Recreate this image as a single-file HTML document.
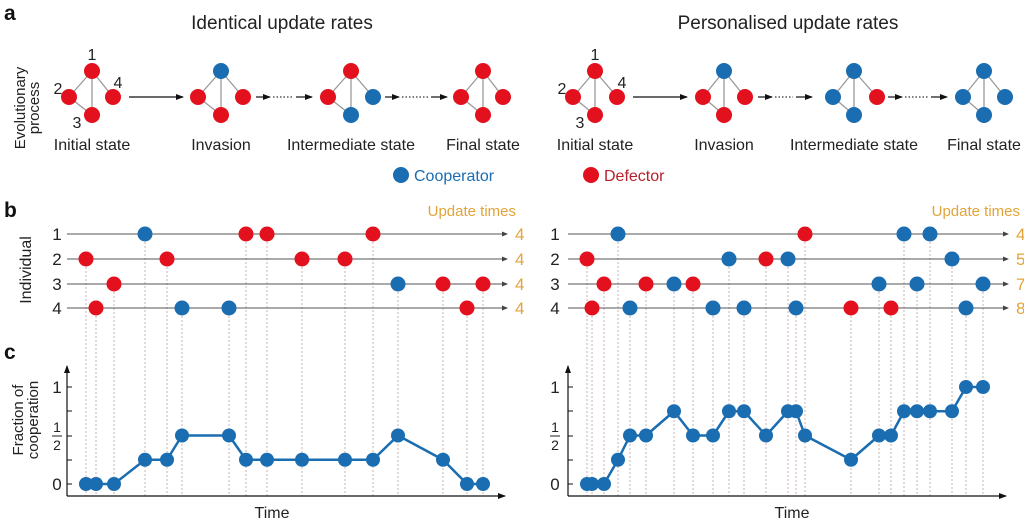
<!DOCTYPE html>
<html><head><meta charset="utf-8"><style>
html,body{margin:0;padding:0;background:#fff;}
svg{display:block;font-family:"Liberation Sans",Arial,sans-serif;}
</style></head><body>
<svg id="s" width="1024" height="524" viewBox="0 0 1024 524" xmlns="http://www.w3.org/2000/svg">
<defs>
<marker id="ar" markerWidth="8" markerHeight="6" refX="7" refY="3" orient="auto" markerUnits="userSpaceOnUse"><path d="M0,0 L8,3 L0,6 z" fill="#111"/></marker>
<marker id="ag" markerWidth="6" markerHeight="5" refX="5" refY="2.5" orient="auto" markerUnits="userSpaceOnUse"><path d="M0,0 L6,2.5 L0,5 z" fill="#444"/></marker>
</defs>
<g font-weight="bold" font-size="21" fill="#111">
<text x="4" y="20">a</text><text x="4" y="217">b</text><text x="4" y="359">c</text>
</g>
<text x="282" y="29" font-size="19" text-anchor="middle" fill="#222">Identical update rates</text>
<text x="788" y="29" font-size="19" text-anchor="middle" fill="#222">Personalised update rates</text>
<text transform="translate(25,108) rotate(-90)" font-size="15" text-anchor="middle" fill="#222">Evolutionary</text>
<text transform="translate(39,108) rotate(-90)" font-size="15" text-anchor="middle" fill="#222">process</text>
<text transform="translate(31,270) rotate(-90)" font-size="16" text-anchor="middle" fill="#222">Individual</text>
<text transform="translate(23,420) rotate(-90)" font-size="15" text-anchor="middle" fill="#222">Fraction of</text>
<text transform="translate(38,420) rotate(-90)" font-size="15" text-anchor="middle" fill="#222">cooperation</text>
<circle cx="401" cy="175" r="8" fill="#1a6db0"/><text x="414" y="181" font-size="16" fill="#1a6db0">Cooperator</text>
<circle cx="591" cy="175" r="8" fill="#e3101d"/><text x="604" y="181" font-size="16" fill="#b8202c">Defector</text>
<text x="516" y="216" font-size="15" text-anchor="end" fill="#e2a43a">Update times</text>
<text x="1020" y="216" font-size="15" text-anchor="end" fill="#e2a43a">Update times</text>
<text x="272" y="518" font-size="16" text-anchor="middle" fill="#222">Time</text>
<text x="792" y="518" font-size="16" text-anchor="middle" fill="#222">Time</text>
<g id="g"></g>
</svg>
<script>
var R="#e3101d",B="#1a6db0",g=document.getElementById("g"),h="";
function net(c,l,r,cols){
 h+='<g stroke="#999" stroke-width="1.3"><line x1="'+c+'" y1="71" x2="'+l+'" y2="97"/><line x1="'+c+'" y1="71" x2="'+r+'" y2="97"/><line x1="'+c+'" y1="71" x2="'+c+'" y2="115"/><line x1="'+l+'" y1="97" x2="'+c+'" y2="115"/></g>';
 h+='<circle cx="'+c+'" cy="71" r="8" fill="'+cols[0]+'"/><circle cx="'+l+'" cy="97" r="8" fill="'+cols[1]+'"/><circle cx="'+c+'" cy="115" r="8" fill="'+cols[2]+'"/><circle cx="'+r+'" cy="97" r="8" fill="'+cols[3]+'"/>';
}
function txt(x,y,s,sz,anc,col){h+='<text x="'+x+'" y="'+y+'" font-size="'+sz+'" text-anchor="'+(anc||"middle")+'" fill="'+(col||"#222")+'">'+s+'</text>';}
function arrow(x1,x2,dotted){
 if(!dotted){h+='<line x1="'+x1+'" y1="97" x2="'+x2+'" y2="97" stroke="#111" stroke-width="1.2" marker-end="url(#ar)"/>';return;}
 var a=x1+14,b=x2-16;
 h+='<line x1="'+x1+'" y1="97" x2="'+a+'" y2="97" stroke="#111" stroke-width="1.2" marker-end="url(#ar)"/>';
 h+='<line x1="'+(a+3)+'" y1="97" x2="'+(b-3)+'" y2="97" stroke="#333" stroke-width="1.2" stroke-dasharray="1.5,2"/>';
 h+='<line x1="'+b+'" y1="97" x2="'+x2+'" y2="97" stroke="#111" stroke-width="1.2" marker-end="url(#ar)"/>';
}
function panelA(o,C){
 net(o[0][0],o[0][1],o[0][2],[R,R,R,R]);
 txt(o[0][0],60,"1",16);txt(o[0][1]-11,94,"2",16);txt(o[0][2]+5,88,"4",16);txt(o[0][0]-15,128,"3",16);
 for(var i=1;i<4;i++)net(o[i][0],o[i][1],o[i][2],C[i-1]);
 var L=["Initial state","Invasion","Intermediate state","Final state"];
 for(i=0;i<4;i++)txt(o[i][0],150,L[i],16);
}
panelA([[92,69,113],[221,198,243],[351,328,373],[483,461,503]],[[B,R,R,R],[R,R,B,B],[R,R,R,R]]);
arrow(129,183,false);arrow(256,312,true);arrow(385,447,true);
panelA([[595,573,617],[724,703,745],[854,833,877],[984,963,1005]],[[B,R,R,R],[B,B,B,R],[B,B,B,B]]);
arrow(633,687,false);arrow(758,812,true);arrow(888,947,true);

var rows=[234,259,284,308];
function panel(x0,x1,lab,ev,counts,pts){
 for(var r=0;r<4;r++)for(var k=0;k<ev[r].length;k++){
  var e=ev[r][k];h+='<line x1="'+e[0]+'" y1="'+rows[r]+'" x2="'+e[0]+'" y2="496" stroke="#c4a8ac" stroke-width="0.9" stroke-dasharray="2,2"/>';
 }
 for(r=0;r<4;r++){
  h+='<line x1="'+x0+'" y1="'+rows[r]+'" x2="'+(x1+2)+'" y2="'+rows[r]+'" stroke="#555" stroke-width="1" marker-end="url(#ag)"/>';
  txt(lab,rows[r]+6,String(r+1),17,"middle","#222");
  txt(x1+10,rows[r]+6,counts[r],17,"start","#e2a43a");
  for(k=0;k<ev[r].length;k++){e=ev[r][k];h+='<circle cx="'+e[0]+'" cy="'+rows[r]+'" r="7.5" fill="'+e[1]+'"/>';}
 }
 h+='<line x1="'+x0+'" y1="496" x2="'+x0+'" y2="366" stroke="#111" stroke-width="1.2" marker-end="url(#ar)"/>';
 h+='<line x1="'+x0+'" y1="496" x2="'+x1+'" y2="496" stroke="#111" stroke-width="1.2" marker-end="url(#ar)"/>';
 var ys=[484,460,436,411,387];
 for(var t=0;t<5;t++)h+='<line x1="'+x0+'" y1="'+ys[t]+'" x2="'+(x0+5)+'" y2="'+ys[t]+'" stroke="#111" stroke-width="1"/>';
 txt(lab,490,"0",17);txt(lab,393,"1",17);
 txt(lab,432,"1",14);h+='<line x1="'+(lab-5)+'" y1="436" x2="'+(lab+5)+'" y2="436" stroke="#222" stroke-width="1"/>';txt(lab,450,"2",14);
 var d="";for(k=0;k<pts.length;k++){var y=484-pts[k][1]*97;d+=(k?"L":"M")+pts[k][0]+","+y;}
 h+='<path d="'+d+'" fill="none" stroke="#1a6db0" stroke-width="2.5" stroke-linejoin="round"/>';
 for(k=0;k<pts.length;k++)h+='<circle cx="'+pts[k][0]+'" cy="'+(484-pts[k][1]*97)+'" r="7" fill="#1a6db0"/>';
}
panel(67,505,57,
 [[[145,B],[246,R],[267,R],[373,R]],[[86,R],[167,R],[302,R],[345,R]],[[114,R],[398,B],[443,R],[483,R]],[[96,R],[182,B],[229,B],[467,R]]],
 ["4","4","4","4"],
 [[86,0],[96,0],[114,0],[145,.25],[167,.25],[182,.5],[229,.5],[246,.25],[267,.25],[302,.25],[345,.25],[373,.25],[398,.5],[443,.25],[467,0],[483,0]]);
panel(568,1006,555,
 [[[618,B],[805,R],[904,B],[930,B]],[[587,R],[729,B],[766,R],[788,B],[952,B]],[[604,R],[646,R],[674,B],[693,R],[879,B],[917,B],[983,B]],[[592,R],[630,B],[713,B],[744,B],[796,B],[851,R],[891,R],[966,B]]],
 ["4","5","7","8"],
 [[587,0],[592,0],[604,0],[618,.25],[630,.5],[646,.5],[674,.75],[693,.5],[713,.5],[729,.75],[744,.75],[766,.5],[788,.75],[796,.75],[805,.5],[851,.25],[879,.5],[891,.5],[904,.75],[917,.75],[930,.75],[952,.75],[966,1],[983,1]]);
g.innerHTML=h;
</script>
</body></html>
